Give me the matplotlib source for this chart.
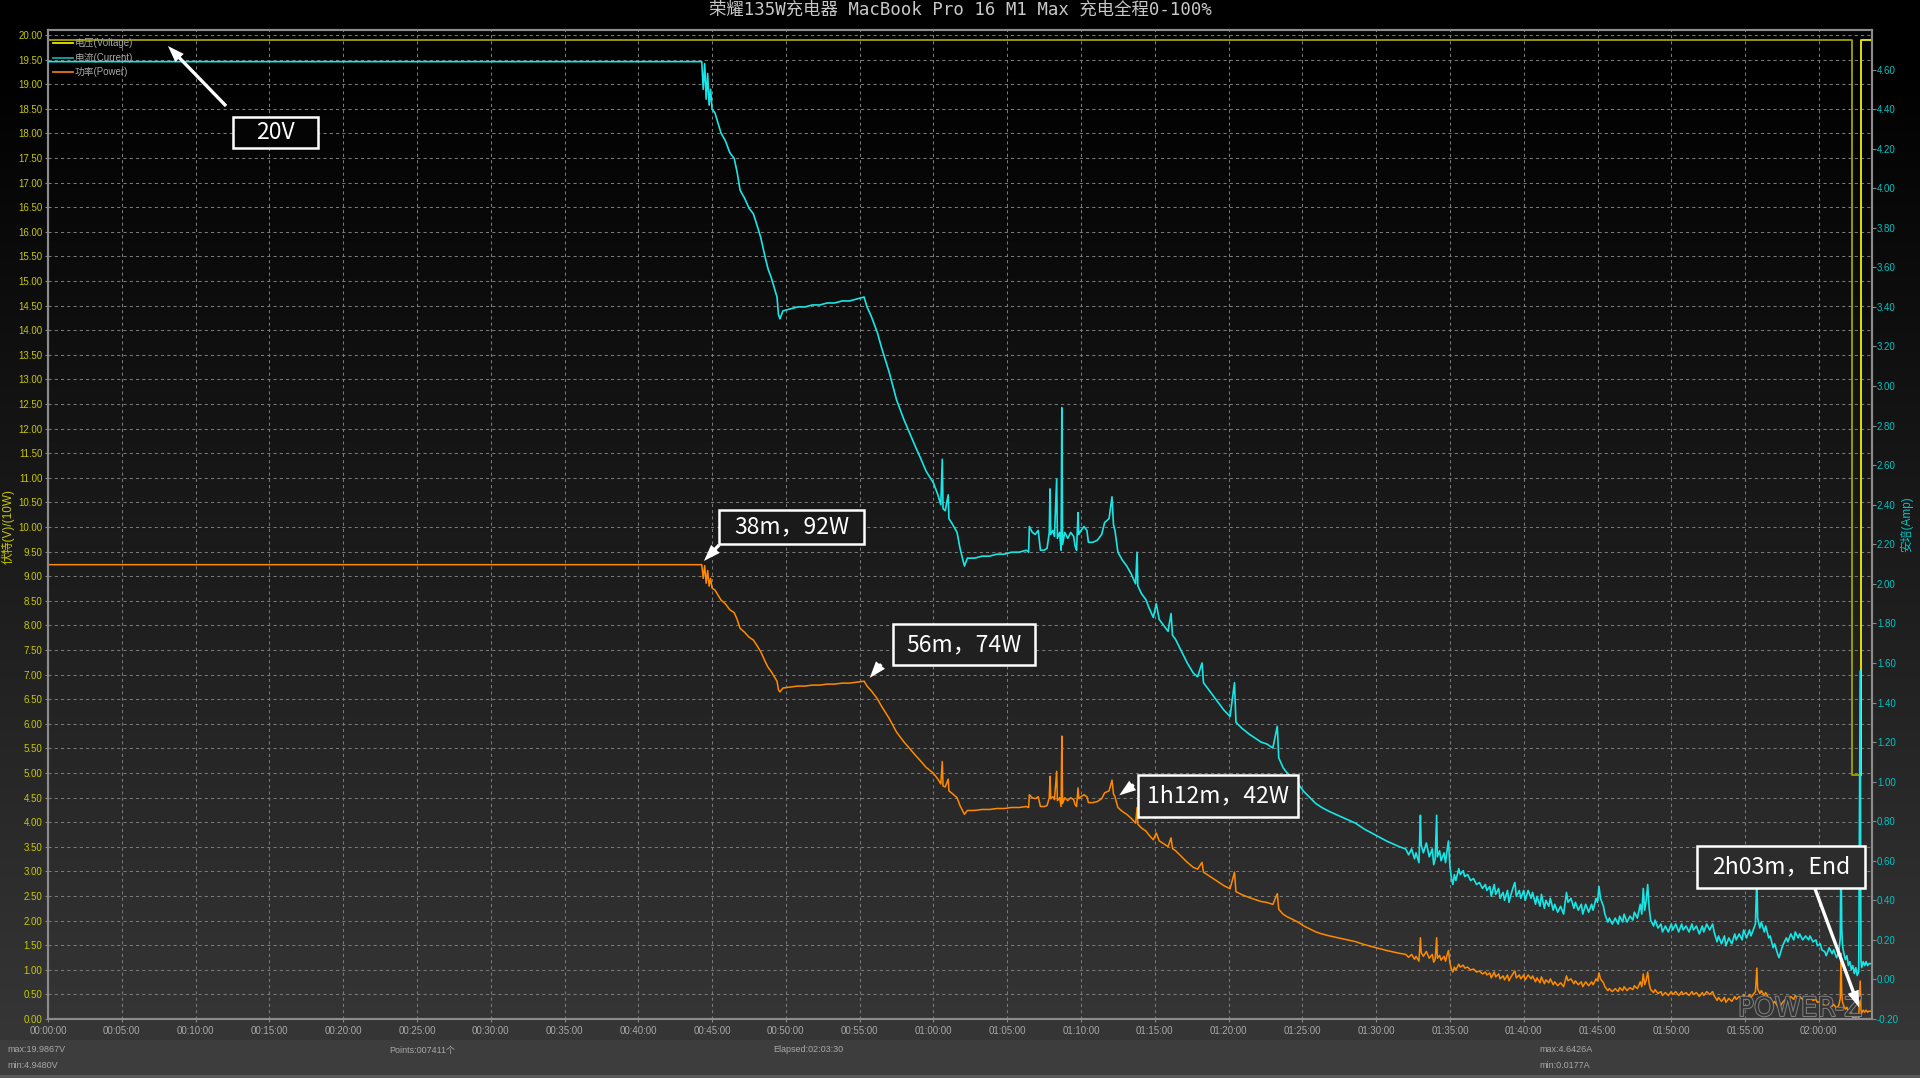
import numpy as np
import matplotlib
matplotlib.use("Agg")
import matplotlib.pyplot as plt
import matplotlib.patheffects as pe
from matplotlib.patches import Rectangle, FancyArrowPatch
from matplotlib.lines import Line2D

plt.rcParams['font.family'] = ['Liberation Sans', 'Noto Sans CJK SC']

W, H = 1920, 1078

# ── Data (read off the POWER-Z log) ───────────────────────────────────────────
# time in minutes, current in A; split into stretches of the charge curve
# constant-current phase and first taper
cc_t = [0.0, 44.3, 44.4, 44.5, 44.6, 44.7, 44.8, 44.9, 45.0, 45.2, 45.4, 45.6, 45.9,
        46.2, 46.5, 46.7, 46.9, 47.2, 47.5, 47.8, 48.1, 48.3, 48.6, 48.8, 49.0, 49.2,
        49.4, 49.5, 49.6,
        49.8, 50.3, 50.8, 51.3, 51.8, 52.3, 52.8, 53.3, 53.8, 54.3, 54.8, 55.3,
        55.5, 55.8, 56.2, 56.5, 57.0, 57.5, 58.0, 58.4, 58.8, 59.1, 59.5, 60.0, 60.3,
        60.5, 60.6, 60.65, 60.8, 61.0, 61.05, 61.3, 61.6, 61.8, 62.0, 62.1,
        62.3, 62.8, 63.3, 63.8, 64.3, 64.8, 65.3, 65.8, 66.3, 66.45]
cc_a = [4.64, 4.64, 4.50, 4.63, 4.45, 4.58, 4.42, 4.50, 4.40, 4.38, 4.33, 4.28, 4.24,
        4.18, 4.15, 4.08, 3.99, 3.95, 3.90, 3.87, 3.80, 3.75, 3.65, 3.59, 3.55, 3.50,
        3.45, 3.36, 3.34,
        3.38, 3.39, 3.40, 3.40, 3.41, 3.41, 3.42, 3.42, 3.43, 3.43, 3.44, 3.45,
        3.40, 3.35, 3.27, 3.19, 3.07, 2.93, 2.83, 2.76, 2.69, 2.64, 2.57, 2.51, 2.45,
        2.40, 2.63, 2.38, 2.37, 2.45, 2.33, 2.30, 2.26, 2.18, 2.12, 2.09,
        2.13, 2.13, 2.14, 2.14, 2.15, 2.15, 2.16, 2.16, 2.17, 2.16]

# noisy plateau around 1h07–1h12
mid_t = [66.5, 66.7, 66.9, 67.1, 67.25, 67.5, 67.7, 67.85, 67.9, 67.95, 68.1, 68.2,
         68.35, 68.4, 68.55, 68.65, 68.7, 68.75, 68.9, 69.1, 69.3, 69.5, 69.6, 69.7,
         69.8, 69.85, 70.0, 70.2, 70.4, 70.5, 70.8, 71.1, 71.4, 71.6, 71.9, 72.1,
         72.2, 72.3]
mid_a = [2.29, 2.26, 2.25, 2.27, 2.17, 2.17, 2.18, 2.26, 2.48, 2.25, 2.27, 2.24,
         2.53, 2.23, 2.26, 2.17, 2.89, 2.20, 2.26, 2.23, 2.26, 2.24, 2.19, 2.17,
         2.36, 2.25, 2.27, 2.29, 2.27, 2.21, 2.21, 2.22, 2.25, 2.31, 2.33, 2.44,
         2.30, 2.27]

# taper down to ~0.67 A
tap_t = [72.5, 72.8, 73.1, 73.4, 73.7, 73.8, 73.85, 74.1, 74.4, 74.6, 74.9, 75.1,
         75.3, 75.6, 75.9, 76.1, 76.2, 76.4, 76.8, 77.2, 77.6, 77.9, 78.2, 78.3,
         78.6, 78.9, 79.3, 79.7, 80.1, 80.4, 80.5, 80.9, 81.4, 81.8, 82.2, 82.6,
         83.0, 83.3, 83.4, 83.7, 83.9, 84.3, 84.7, 85.1, 85.5, 85.9, 86.3, 86.8,
         87.4, 88.0, 88.6, 89.2, 89.7, 90.2, 90.7, 91.3, 91.6]
tap_a = [2.16, 2.12, 2.09, 2.05, 2.00, 2.16, 1.99, 1.95, 1.92, 1.88, 1.83, 1.90,
         1.82, 1.79, 1.76, 1.85, 1.74, 1.72, 1.66, 1.60, 1.55, 1.53, 1.60, 1.50,
         1.47, 1.44, 1.40, 1.36, 1.33, 1.50, 1.30, 1.27, 1.24, 1.22, 1.20, 1.19,
         1.17, 1.28, 1.12, 1.07, 1.05, 1.02, 0.99, 0.95, 0.92, 0.89, 0.87, 0.85,
         0.83, 0.81, 0.79, 0.76, 0.74, 0.72, 0.70, 0.68, 0.67]

# trickle tail, jittery
tail_t = [92.0, 92.2, 92.4, 92.6, 92.7, 92.9, 93.0, 93.05, 93.2, 93.4, 93.6, 93.8,
          93.9, 94.0, 94.1, 94.15, 94.3, 94.4, 94.6, 94.7, 94.8, 94.9, 95.0, 95.1,
          95.2, 95.3, 95.4, 95.6, 95.7, 95.9, 96.0, 96.2, 96.4, 96.6, 96.8, 97.0,
          97.2, 97.4, 97.5, 97.7, 97.8, 98.0, 98.1, 98.3, 98.4, 98.6, 98.7, 98.9,
          99.0, 99.1, 99.3, 99.4, 99.5, 99.7, 99.8, 100.0, 100.1, 100.3, 100.5,
          100.6, 100.8, 100.9, 101.1, 101.2, 101.4, 101.5, 101.7, 101.8, 102.0,
          102.1, 102.3, 102.5, 102.7, 102.9, 103.0, 103.2, 103.4, 103.5, 103.7,
          103.9, 104.0, 104.2, 104.4, 104.6, 104.7, 104.9, 105.0, 105.1, 105.2,
          105.4, 105.5, 105.7, 105.8, 106.0, 106.2, 106.4, 106.5, 106.7, 106.8,
          107.0, 107.2, 107.4, 107.5, 107.7, 107.9, 108.0, 108.1, 108.2, 108.3,
          108.4, 108.5, 108.6, 108.8, 108.9, 109.1, 109.3, 109.4, 109.6, 109.8,
          110.0, 110.1, 110.3, 110.5, 110.7, 110.8, 111.0, 111.2, 111.4, 111.5,
          111.7, 111.9, 112.1, 112.2, 112.4, 112.6, 112.8, 112.9, 113.1, 113.2,
          113.4, 113.6, 113.7, 113.9, 114.1, 114.3, 114.4, 114.6, 114.8, 114.9,
          115.1, 115.3, 115.4, 115.6, 115.7, 115.8, 115.85, 116.0, 116.1, 116.3,
          116.4, 116.6, 116.7, 116.9, 117.0, 117.2, 117.3, 117.5, 117.6, 117.8,
          117.9, 118.1, 118.3, 118.4, 118.6, 118.7, 118.9, 119.1, 119.3, 119.4,
          119.6, 119.8, 119.9, 120.1, 120.2, 120.4, 120.5, 120.7, 120.9, 121.0,
          121.2, 121.35, 121.45, 121.5, 121.55, 121.6, 121.7, 121.8, 121.9, 122.0,
          122.1, 122.2, 122.3, 122.4, 122.5, 122.6, 122.7, 122.8, 122.85, 122.9,
          123.0, 123.1, 123.2, 123.3, 123.4, 123.5]
tail_a = [0.66, 0.63, 0.66, 0.61, 0.64, 0.59, 0.83, 0.68, 0.64, 0.69, 0.62, 0.66,
          0.58, 0.61, 0.83, 0.62, 0.65, 0.60, 0.64, 0.59, 0.65, 0.70, 0.57, 0.51,
          0.48, 0.53, 0.50, 0.56, 0.53, 0.55, 0.52, 0.53, 0.50, 0.51, 0.48, 0.49,
          0.46, 0.48, 0.45, 0.47, 0.42, 0.48, 0.43, 0.46, 0.41, 0.44, 0.40, 0.45,
          0.39, 0.42, 0.47, 0.49, 0.42, 0.45, 0.41, 0.45, 0.40, 0.45, 0.41,
          0.44, 0.38, 0.42, 0.37, 0.43, 0.36, 0.40, 0.37, 0.41, 0.35,
          0.38, 0.34, 0.37, 0.33, 0.44, 0.39, 0.41, 0.36, 0.39, 0.35,
          0.38, 0.33, 0.38, 0.34, 0.38, 0.35, 0.41, 0.39, 0.47, 0.41,
          0.37, 0.33, 0.29, 0.31, 0.28, 0.31, 0.28, 0.32, 0.29, 0.33,
          0.29, 0.32, 0.30, 0.34, 0.31, 0.38, 0.33, 0.46, 0.35, 0.40,
          0.48, 0.36, 0.30, 0.27, 0.30, 0.26, 0.28, 0.24, 0.27, 0.24,
          0.28, 0.25, 0.28, 0.24, 0.28, 0.25, 0.27, 0.24, 0.28, 0.25,
          0.27, 0.23, 0.27, 0.24, 0.28, 0.25, 0.28, 0.24, 0.19, 0.22,
          0.18, 0.22, 0.17, 0.21, 0.18, 0.23, 0.20, 0.23, 0.20, 0.25,
          0.21, 0.25, 0.22, 0.26, 0.28, 0.52, 0.31, 0.26, 0.29, 0.24,
          0.27, 0.21, 0.22, 0.16, 0.18, 0.13, 0.11, 0.16, 0.18, 0.21,
          0.19, 0.23, 0.20, 0.24, 0.21, 0.23, 0.20, 0.22, 0.20, 0.22,
          0.19, 0.20, 0.17, 0.18, 0.15, 0.14, 0.12, 0.16, 0.13, 0.15,
          0.11, 0.14, 0.21, 0.67, 0.26, 0.17, 0.13, 0.10, 0.12, 0.07,
          0.09, 0.05, 0.07, 0.03, 0.06, 0.02, 0.04, 1.56, 0.10, 0.06,
          0.09, 0.07, 0.09, 0.07, 0.08, 0.08]

# bus voltage (V), step-wise: PD drops to 5 V near the end, then back to 20 V
volt_t = [0.0, 122.27, 122.27, 122.83, 122.83, 123.5]
volt_v = [19.90, 19.90, 4.95, 4.95, 19.90, 19.90]

x_ticks_min = list(range(0, 121, 5))

status = {
    "vmax": "max:19.9867V", "vmin": "min:4.9480V",
    "points": "Points:007411个", "elapsed": "Elapsed:02:03:30",
    "amax": "max:4.6426A", "amin": "min:0.0177A",
}

# (label, box x0, y0, x1, y1 in px, arrow tail, arrow tip)
annotations = [
    ("20V",        (233, 117, 318, 148),   (228, 108),  (166, 44)),
    ("38m，92W",   (719, 510, 864, 544),   (721, 543),  (702, 563)),
    ("56m，74W",   (893, 624, 1035, 665),  (883, 662),  (868, 680)),
    ("1h12m，42W", (1138, 775, 1298, 817), (1136, 783), (1117, 797)),
    ("2h03m，End", (1697, 846, 1865, 888), (1814, 886), (1860, 1010)),
]

# ── Derived series ────────────────────────────────────────────────────────────
cur_t = np.array(cc_t + mid_t + tap_t + tail_t)
cur_a = np.array(cc_a + mid_a + tap_a + tail_a)
idx = np.searchsorted(volt_t, cur_t, side="right") - 1
volt_at_cur = np.array(volt_v)[idx]
power_10w = volt_at_cur * cur_a / 10.0     # left axis is V and 10 W


def fx(x):
    return x / W


def fy(y):
    return 1 - y / H


def bg_gray(y):
    return np.clip((y - 60) / (1040 - 60), 0, 1) * 54


fig = plt.figure(figsize=(19.2, 10.78), dpi=100)
fig.patch.set_facecolor("black")

# background gradient
ys = np.arange(H, dtype=float)
g = bg_gray(ys)
g[ys >= 1040] = 61
g[ys >= 1075] = 88
img = np.repeat((g / 255.0)[:, None, None], 3, axis=2)
bg = fig.add_axes([0, 0, 1, 1], zorder=-10)
bg.imshow(img, extent=[0, 1, 0, 1], aspect="auto", interpolation="nearest")
bg.axis("off")

ax = fig.add_axes([fx(48), fy(1019), (1872 - 48) / W, (1019 - 30) / H])
ax.patch.set_alpha(0)
ax2 = ax.twinx()
ax2.patch.set_alpha(0)

# ── Lines ─────────────────────────────────────────────────────────────────────
ax.plot(volt_t[:4], volt_v[:4], color="#a3a300", lw=1.3, zorder=3)
ax.plot(volt_t[3:], volt_v[3:], color="#f0f000", lw=1.3, zorder=3)
ax.plot(cur_t, power_10w, color="#ff8a00", lw=1.1, zorder=3)
ax2.plot(cur_t, cur_a, color="#18e6e6", lw=1.2, zorder=3)

# ── Axes styling ──────────────────────────────────────────────────────────────
ax.set_xlim(0, 123.6)
ax.set_ylim(0, 20.10)
ax2.set_ylim(-0.2, 4.80)

ax.set_yticks(np.arange(0, 20.01, 0.5))
ax.set_yticklabels([f"{v:.2f}" for v in np.arange(0, 20.01, 0.5)])
ax2.set_yticks(np.arange(-0.2, 4.61, 0.2))
ax2.set_yticklabels([f"{v:.2f}" for v in np.arange(-0.2, 4.61, 0.2)])
ax.set_xticks(x_ticks_min)
ax.set_xticklabels([f"{m // 60:02d}:{m % 60:02d}:00" for m in x_ticks_min])

ax.tick_params(axis="y", colors="#888888", labelcolor="#c8c800", labelsize=7,
               length=2, pad=2)
ax.tick_params(axis="x", colors="#888888", labelcolor="#a8a8a8", labelsize=7,
               length=2, pad=3)
ax2.tick_params(axis="y", colors="#888888", labelcolor="#00c4c4", labelsize=7,
                length=3, pad=0.5)

ax.grid(True, color="#7a7a7a", lw=0.75, linestyle=(0, (3, 3)))
for a in (ax, ax2):
    for s in a.spines.values():
        s.set_color("#8c8c8c")
        s.set_linewidth(1.5)

# ── Title, axis labels ───────────────────────────────────────────────────────
fig.text(0.5, fy(10), "荣耀135W充电器 MacBook Pro 16 M1 Max 充电全程0-100%",
         ha="center", va="center", color="#c8c8c8", fontsize=12.5,
         family=["DejaVu Sans Mono", "Noto Sans CJK SC"])
fig.text(fx(8), fy(527), "伏特(V)/(10W)", rotation=90, ha="center", va="center",
         color="#c8c800", fontsize=8.5)
fig.text(fx(1907), fy(524), "安培(Amp)", rotation=90, ha="center", va="center",
         color="#00c4c4", fontsize=8.5)

# ── Legend (top left, drawn by hand) ──────────────────────────────────────────
legend = [("电压(Voltage)", "#e8e800", 43), ("电流(Current)", "#10a8a8", 58),
          ("功率(Power)", "#e07a10", 72)]
for label, col, yy in legend:
    fig.add_artist(Line2D([fx(53), fx(73)], [fy(yy), fy(yy)], color=col, lw=1.3))
    fig.text(fx(75), fy(yy), label, ha="left", va="center", color="#a8a8a8",
             fontsize=7)

# ── Status bar ────────────────────────────────────────────────────────────────
st_kw = dict(ha="left", va="center", color="#a8a8a8", fontsize=6.5)
fig.text(fx(7), fy(1050), status["vmax"], **st_kw)
fig.text(fx(7), fy(1066), status["vmin"], **st_kw)
fig.text(fx(389), fy(1050), status["points"], **st_kw)
fig.text(fx(773), fy(1050), status["elapsed"], **st_kw)
fig.text(fx(1539), fy(1050), status["amax"], **st_kw)
fig.text(fx(1539), fy(1066), status["amin"], **st_kw)

# ── Watermark ─────────────────────────────────────────────────────────────────
fig.text(fx(1800), fy(1009), "POWER-Z", ha="center", va="center", fontsize=19,
         family="DejaVu Sans", color="#303030", alpha=0.9,
         path_effects=[pe.withStroke(linewidth=1.4, foreground="#8a8a8a")])

# ── Callout boxes with arrows ─────────────────────────────────────────────────
for label, (x0, y0, x1, y1), tail, tip in annotations:
    shade = bg_gray((y0 + y1) / 2) / 255.0
    fig.add_artist(Rectangle((fx(x0), fy(y1)), (x1 - x0) / W, (y1 - y0) / H,
                             facecolor=(shade, shade, shade), edgecolor="white",
                             lw=1.8, transform=fig.transFigure, zorder=5))
    fig.text(fx((x0 + x1) / 2), fy((y0 + y1) / 2), label, ha="center",
             va="center", color="white", fontsize=16.5,
             family=["Noto Sans CJK SC", "DejaVu Sans"], zorder=6)
    fig.add_artist(FancyArrowPatch((fx(tail[0]), fy(tail[1])),
                                   (fx(tip[0]), fy(tip[1])),
                                   transform=fig.transFigure,
                                   arrowstyle="simple,head_length=1.0,head_width=0.7,tail_width=0.2",
                                   mutation_scale=12, color="white", lw=0,
                                   zorder=6))

fig.savefig("out.png", dpi=100, facecolor=fig.get_facecolor())
